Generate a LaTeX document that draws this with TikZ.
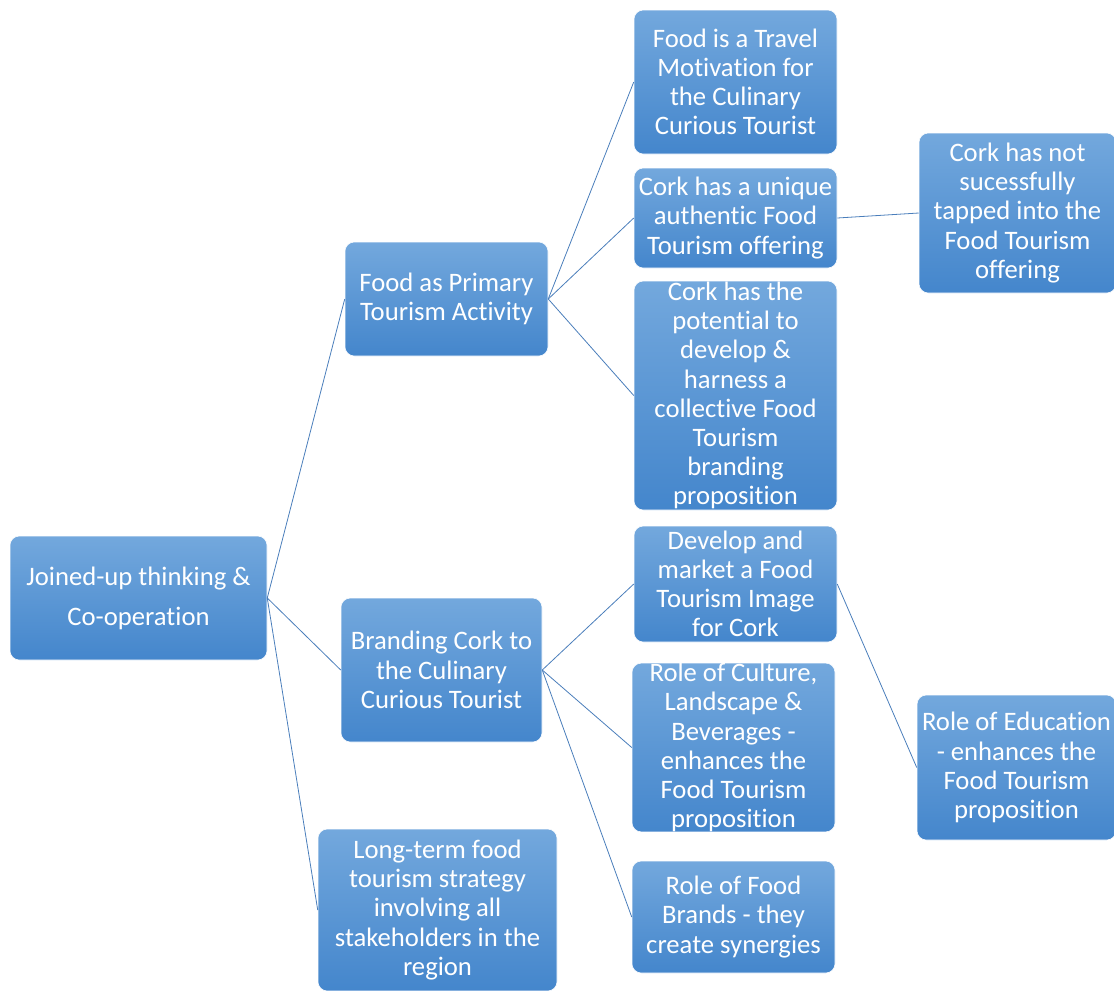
\documentclass[tikz,border=0pt]{standalone}
\usepackage{fontspec}
\setmainfont{Carlito}[RawFeature=-liga]
\usepackage{xcolor}
\definecolor{boxtop}{RGB}{115,168,221}
\definecolor{boxbot}{RGB}{68,134,204}
\definecolor{linkblue}{RGB}{74,126,187}

\begin{document}
\begin{tikzpicture}[x=0.75pt, y=-0.75pt,
  blk/.style 2 args={rounded corners=7pt, top color=boxtop, bottom color=boxbot,
    draw=white, line width=0.4pt, text=white, align=center, inner sep=0pt,
    minimum width=#1*0.75pt, minimum height=#2*0.75pt,
    font=\fontsize{20}{21.9}\selectfont},
  link/.style={draw=linkblue, line width=0.6pt}]
\useasboundingbox (0,0) rectangle (1114,990);
% first level
\node[blk={257}{124}, font=\fontsize{20}{30}\selectfont] (root) at (138.5,598) {Joined-up thinking \&\\Co-operation};
% second level
\node[blk={203}{114}] (primary) at (446.5,299) {Food as Primary\\Tourism Activity};
\node[blk={201}{144}] (branding) at (441.5,670) {Branding Cork to\\the Culinary\\Curious Tourist};
\node[blk={239}{162}] (longterm) at (437.5,910) {Long-term food\\tourism strategy\\involving all\\stakeholders in the\\region};
% third level
\node[blk={203}{144}] (travel) at (735.5,82) {Food is a Travel\\Motivation for\\the Culinary\\Curious Tourist};
\node[blk={203}{100}] (unique) at (735.5,218) {Cork has a unique\\authentic Food\\Tourism offering};
\node[blk={203}{229}] (potential) at (735.5,395.5) {Cork has the\\potential to\\develop \&\\harness a\\collective Food\\Tourism\\branding\\proposition};
\node[blk={203}{116}] (develop) at (735.5,584) {Develop and\\market a Food\\Tourism Image\\for Cork};
\node[blk={203}{167}] (culture) at (733.5,747.5) {Role of Culture,\\Landscape \&\\Beverages -\\enhances the\\Food Tourism\\proposition};
\node[blk={203}{112}] (brands) at (733.5,917) {Role of Food\\Brands - they\\create synergies};
% fourth level
\node[blk={197}{160}] (untapped) at (1017.5,213) {Cork has not\\sucessfully\\tapped into the\\Food Tourism\\offering};
\node[blk={199}{145}] (education) at (1016.5,767.5) {Role of Education\\- enhances the\\Food Tourism\\proposition};
% connectors
\draw[link] (root.east) -- (primary.west);
\draw[link] (root.east) -- (branding.west);
\draw[link] (root.east) -- (longterm.west);
\draw[link] (primary.east) -- (travel.west);
\draw[link] (primary.east) -- (unique.west);
\draw[link] (primary.east) -- (potential.west);
\draw[link] (branding.east) -- (develop.west);
\draw[link] (branding.east) -- (culture.west);
\draw[link] (branding.east) -- (brands.west);
\draw[link] (unique.east) -- (untapped.west);
\draw[link] (develop.east) -- (education.west);
\end{tikzpicture}
\end{document}
